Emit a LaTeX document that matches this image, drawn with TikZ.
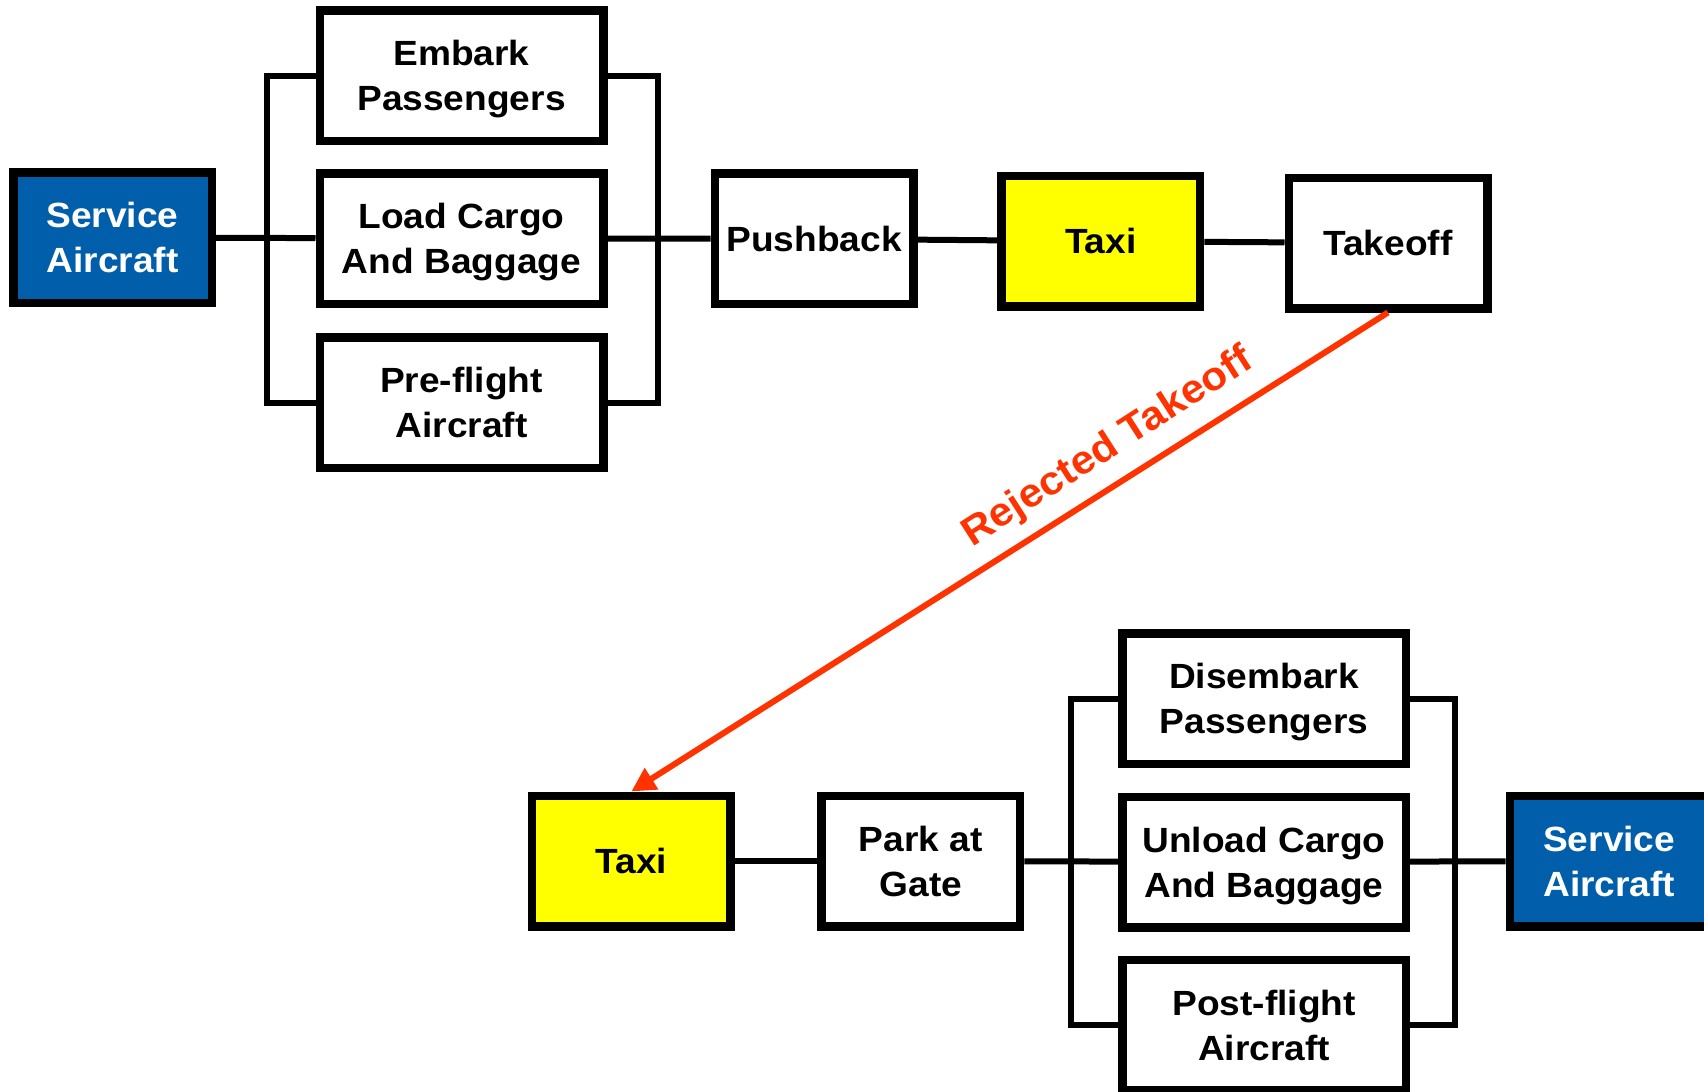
\documentclass[tikz,border=0pt]{standalone}
\usepackage{fontspec}
\setmainfont{Liberation Sans}[FakeStretch=1.06]
\usetikzlibrary{arrows.meta}
\definecolor{boxblue}{RGB}{0,94,170}
\definecolor{rejred}{RGB}{255,51,0}
\definecolor{boxyellow}{RGB}{255,255,0}
\tikzset{
  box/.style={draw=black, line width=4.25pt, fill=white, minimum width=99.25pt,
    minimum height=65.25pt, inner sep=0pt, align=center, text depth=0pt,
    font=\bfseries\fontsize{17.5}{22.4}\selectfont},
  widebox/.style={box, minimum width=141.75pt},
  bluebox/.style={box, fill=boxblue, text=white},
  yellowbox/.style={box, fill=boxyellow},
  conn/.style={draw=black, line width=3pt},
  rejline/.style={draw=rejred, line width=3pt, -{Triangle[length=12pt,width=12pt]}},
  rejlabel/.style={text=rejred, inner sep=0pt, font=\bfseries\fontsize{20}{24}\selectfont}
}
\begin{document}
\begin{tikzpicture}[x=0.5pt, y=-0.5pt]
\useasboundingbox (0,0) rectangle (1704,1092);
\clip (0,0) rectangle (1704,1092);
\fill[white] (0,0) rectangle (1704,1092);

% top row
\node[bluebox] (sa1) at (112.5,237.5) {Service\\Aircraft};
\node[widebox] (emb) at (461.5,75.5) {Embark\\Passengers};
\node[widebox] (load) at (461.5,238.5) {Load Cargo\\And Baggage};
\node[widebox] (pre) at (461.5,402.5) {Pre-flight\\Aircraft};
\node[box] (push) at (814,238.8) {Pushback};
\node[yellowbox] (taxia) at (1100.8,241.2) {Taxi};
\node[box] (takeoff) at (1388,243) {Takeoff};

% bottom row
\node[yellowbox] (taxib) at (631.3,861) {Taxi};
\node[box] (park) at (920.8,861) {Park at\\Gate};
\node[widebox] (dis) at (1264,698.7) {Disembark\\Passengers};
\node[widebox] (unload) at (1264,862) {Unload Cargo\\And Baggage};
\node[widebox] (post) at (1264,1025.3) {Post-flight\\Aircraft};
\node[bluebox] (sa2) at (1609.2,861) {Service\\Aircraft};

% bracket coordinates
\coordinate (lbra) at (266.5,238);
\coordinate (rbra) at (657.5,238);
\coordinate (lbrb) at (1070.5,862);
\coordinate (rbrb) at (1455,862);

% top connectors
\draw[conn] (emb.west) -| (lbra) |- (pre.west);
\draw[conn] (emb.east) -| (rbra) |- (pre.east);
\draw[conn] (sa1) -- (load);
\draw[conn] (load) -- (push);
\draw[conn] (push) -- (taxia);
\draw[conn] (taxia) -- (takeoff);

% bottom connectors
\draw[conn] (dis.west) -| (lbrb) |- (post.west);
\draw[conn] (dis.east) -| (rbrb) |- (post.east);
\draw[conn] (taxib) -- (park);
\draw[conn] (park) -- (unload);
\draw[conn] (unload) -- (sa2);

% rejected takeoff
\draw[rejline] (takeoff.south) -- (taxib.north);
\node[rejlabel, rotate=32.7] (rej) at (1108,448) {Rejected Takeoff};
\end{tikzpicture}
\end{document}
